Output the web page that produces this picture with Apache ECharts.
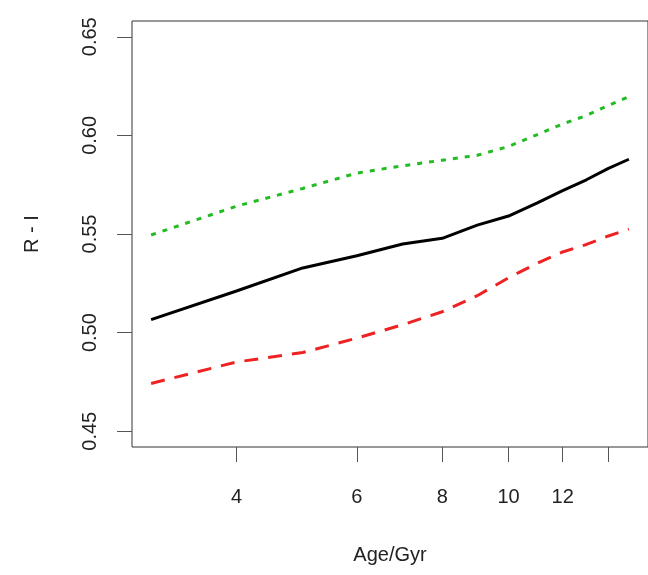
<!DOCTYPE html>
<html>
<head>
	<meta charset="UTF-8">
	<title>R - I vs Age</title>
	<script src="https://cdn.jsdelivr.net/npm/echarts@6/dist/echarts.min.js"></script>
	<style>
		html, body { margin: 0; padding: 0; background: #fff; }
		#chart { width: 648px; height: 575px; }
	</style>
</head>
<body>
	<div id="chart"></div>
	<script type="text/javascript">
		// ages in Gyr (x axis is logarithmic)
		var ages = [3, 4, 5, 6, 7, 8, 9, 10, 11, 12, 13, 14, 15];
		// R - I colour of the three models
		var blackLine = [0.5066, 0.5211, 0.5328, 0.5390, 0.5449, 0.5478, 0.5545, 0.5591, 0.5657, 0.5720, 0.5775, 0.5833, 0.5879];
		var redLine = [0.4742, 0.4851, 0.4899, 0.4972, 0.5040, 0.5106, 0.5187, 0.5278, 0.5351, 0.5409, 0.5447, 0.5490, 0.5525];
		var greenLine = [0.5495, 0.5641, 0.5731, 0.5809, 0.5846, 0.5874, 0.5899, 0.5944, 0.6003, 0.6058, 0.6101, 0.6152, 0.6197];
		// tick marks
		var xTicks = [4, 6, 8, 10, 12, 14];
		var xLabels = [4, 6, 8, 10, 12];
		var yTicks = [0.45, 0.50, 0.55, 0.60, 0.65];
		var yRange = [0.45, 0.65];

		var font = 'Liberation Sans';

		// R style 4% padding, x padding in log space
		var lnMin = Math.log(ages[0]), lnMax = Math.log(ages[ages.length - 1]);
		var xPad = (lnMax - lnMin) * 0.04;
		var yPad = (yRange[1] - yRange[0]) * 0.04;

		function toPairs(vals) {
			return ages.map(function (a, i) { return [Math.log(a), vals[i]]; });
		}

		var myChart = echarts.init(document.getElementById('chart'));

		var option = {
			animation: false,
			backgroundColor: '#fff',
			grid: {
				left: 132, top: 21, right: -4, bottom: 128,
				show: true, borderColor: '#333', borderWidth: 1
			},
			xAxis: {
				type: 'value',
				min: lnMin - xPad,
				max: lnMax + xPad,
				name: 'Age/Gyr',
				nameLocation: 'middle',
				nameGap: 98,
				nameTextStyle: { fontFamily: font, fontSize: 20, color: '#222' },
				axisLine: { show: false },
				splitLine: { show: false },
				axisTick: {
					show: true, length: 15, inside: false,
					customValues: xTicks.map(Math.log),
					lineStyle: { color: '#555', width: 1 }
				},
				axisLabel: {
					margin: 40,
					fontFamily: font, fontSize: 20, color: '#222',
					customValues: xLabels.map(Math.log),
					formatter: function (v) { return String(Math.round(Math.exp(v))); }
				}
			},
			yAxis: {
				type: 'value',
				min: yRange[0] - yPad,
				max: yRange[1] + yPad,
				name: 'R - I',
				nameLocation: 'middle',
				nameRotate: 90,
				nameGap: 90,
				nameTextStyle: { fontFamily: font, fontSize: 20, color: '#222' },
				axisLine: { show: false },
				splitLine: { show: false },
				axisTick: {
					show: true, length: 15,
					customValues: yTicks,
					lineStyle: { color: '#555', width: 1 }
				},
				axisLabel: {
					rotate: 90,
					margin: 32,
					fontFamily: font, fontSize: 20, color: '#222',
					customValues: yTicks,
					formatter: function (v) { return v.toFixed(2); }
				}
			},
			series: [{
				type: 'line',
				data: toPairs(blackLine),
				symbol: 'none',
				lineStyle: { color: '#000', width: 3 }
			}, {
				type: 'line',
				data: toPairs(redLine),
				symbol: 'none',
				lineStyle: { color: '#ee2222', width: 3, type: [14, 10] }
			}, {
				type: 'line',
				data: toPairs(greenLine),
				symbol: 'none',
				lineStyle: { color: '#22bb22', width: 3, type: [5, 7] }
			}]
		};

		myChart.setOption(option);
	</script>
</body>
</html>
